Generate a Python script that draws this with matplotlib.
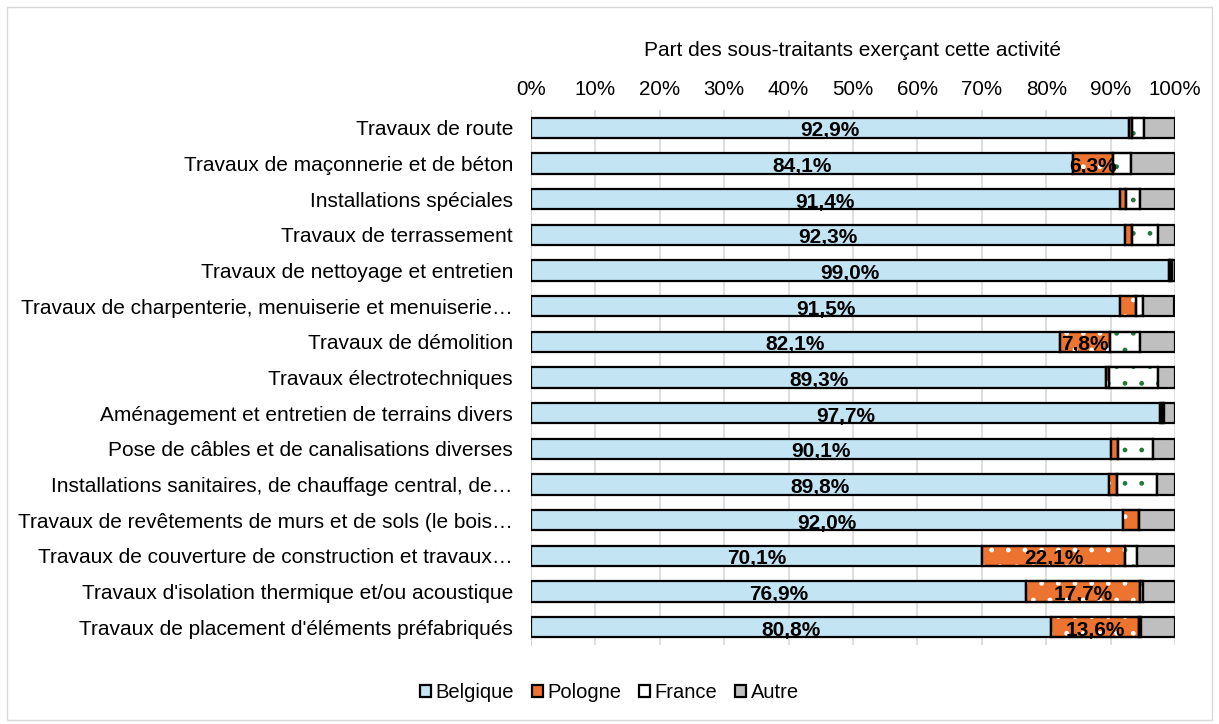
import matplotlib.pyplot as plt
import numpy as np
from matplotlib.patches import Rectangle

plt.rcParams['font.family'] = ['Liberation Sans', 'DejaVu Sans']
plt.rcParams['hatch.linewidth'] = 1.0

activites = [
    "Travaux de route",
    "Travaux de maçonnerie et de béton",
    "Installations spéciales",
    "Travaux de terrassement",
    "Travaux de nettoyage et entretien",
    "Travaux de charpenterie, menuiserie et menuiserie…",
    "Travaux de démolition",
    "Travaux électrotechniques",
    "Aménagement et entretien de terrains divers",
    "Pose de câbles et de canalisations diverses",
    "Installations sanitaires, de chauffage central, de…",
    "Travaux de revêtements de murs et de sols (le bois…",
    "Travaux de couverture de construction et travaux…",
    "Travaux d'isolation thermique et/ou acoustique",
    "Travaux de placement d'éléments préfabriqués",
]
belgique = [92.9, 84.1, 91.4, 92.3, 99.0, 91.5, 82.1, 89.3, 97.7, 90.1, 89.8, 92.0, 70.1, 76.9, 80.8]
pologne = [0.4, 6.3, 1.0, 1.1, 0.3, 2.5, 7.8, 0.4, 0.3, 1.1, 1.2, 2.4, 22.1, 17.7, 13.6]
france = [1.9, 2.7, 2.2, 3.9, 0.3, 1.0, 4.6, 7.6, 0.3, 5.4, 6.2, 0.0, 1.9, 0.5, 0.3]
autre = [4.8, 6.9, 5.4, 2.7, 0.4, 4.9, 5.5, 2.7, 1.7, 3.4, 2.8, 5.6, 5.9, 4.9, 5.3]

series = [("Belgique", belgique, "#c2e4f3"),
          ("Pologne", pologne, "#ed7430"),
          ("France", france, "#ffffff"),
          ("Autre", autre, "#bfbfbf")]
motifs = {"Pologne": "#ffffff", "France": "#1f7a3a"}

fig = plt.figure(figsize=(12.19, 7.24), dpi=100)
ax = fig.add_axes([0.4356, 0.109, 0.5283, 0.739])

y = np.arange(len(activites))
left = np.zeros(len(activites))
for nom, vals, col in series:
    vals = np.array(vals)
    ax.barh(y, vals, left=left, height=0.57, color=col, edgecolor="black",
            linewidth=1.6, label=nom, zorder=3)
    if nom in motifs:
        # motif pointillé
        ax.barh(y, vals, left=left, height=0.57, color="none", edgecolor=motifs[nom],
                hatch=".", linewidth=0, zorder=3.5)
        ax.barh(y, vals, left=left, height=0.57, color="none", edgecolor="black",
                linewidth=1.6, zorder=3.6)
    if nom in ("Belgique", "Pologne"):
        for v, l, yy in zip(vals, left, y):
            if v >= 5:
                ax.text(l + v / 2, yy + 0.08, f"{v:.1f}%".replace(".", ","), ha="center",
                        va="center", fontsize=15, fontweight="bold", zorder=5)
    left = left + vals

ax.set_xlim(0, 100)
ax.set_ylim(len(activites) - 0.5, -0.5)
ax.set_yticks(y)
ax.set_yticklabels(activites, fontsize=15)
ax.set_xticks(np.arange(0, 101, 10))
ax.set_xticklabels([f"{v}%" for v in range(0, 101, 10)], fontsize=14.8)
ax.xaxis.tick_top()
ax.xaxis.set_label_position("top")
ax.set_xlabel("Part des sous-traitants exerçant cette activité", fontsize=15, labelpad=17)
ax.tick_params(axis="y", length=0, pad=13)
ax.tick_params(axis="x", length=0, pad=8)
ax.grid(axis="x", color="#d9d9d9", linewidth=1.2, zorder=0)
for s in ["top", "right", "bottom"]:
    ax.spines[s].set_visible(False)
ax.spines["left"].set_color("#d9d9d9")

fig.legend(loc="center", bbox_to_anchor=(0.5, 0.043), ncol=4, frameon=False,
           fontsize=14.5, handlelength=0.55, handleheight=0.55, handletextpad=0.2,
           columnspacing=0.9)

fig.patches.append(Rectangle((0.006, 0.006), 0.988, 0.984, transform=fig.transFigure,
                             fill=False, edgecolor="#d9d9d9", linewidth=1))

fig.savefig("out.png", dpi=100)
